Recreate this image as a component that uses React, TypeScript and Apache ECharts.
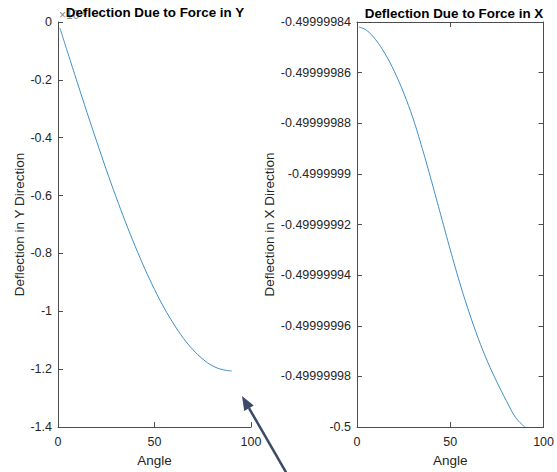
import React, { useEffect, useRef } from "react";
import * as echarts from "echarts";

// Angle samples (degrees)
const angles = [1, 5, 10, 15, 20, 25, 30, 35, 40, 45, 50, 55, 60, 65, 70, 75, 80, 85, 90];
// Deflection in Y, in units of 1e-8
const deflectionY = [
  -0.021, -0.105, -0.209, -0.312, -0.412, -0.51, -0.603, -0.692, -0.775, -0.853, -0.924,
  -0.988, -1.044, -1.093, -1.133, -1.165, -1.188, -1.201, -1.206,
];
// Deflection in X, as offset above -0.5 in units of 1e-8
const deflectionXOffset = [
  15.8, 15.68, 15.3, 14.75, 14.05, 13.2, 12.2, 11.0, 9.7, 8.35, 7.0, 5.72, 4.55, 3.5, 2.58,
  1.78, 1.05, 0.38, 0.0,
];
const xTickLabels = ["0", "50", "100"];
const yTickLabelsLeft = ["-1.4", "-1.2", "-1", "-0.8", "-0.6", "-0.4", "-0.2", "0"];
const yTickLabelsRight = [
  "-0.5", "-0.49999998", "-0.49999996", "-0.49999994", "-0.49999992",
  "-0.4999999", "-0.49999988", "-0.49999986", "-0.49999984",
];
const titleLeft = "Deflection Due to Force in Y";
const titleRight = "Deflection Due to Force in X";

const FONT = "'Liberation Sans', Arial, Helvetica, sans-serif";
const AXIS_COLOR = "#4d4d4d";
const TEXT_COLOR = "#262626";
const LINE_COLOR = "#3f8fc6";

export default function App() {
  const ref = useRef<HTMLDivElement>(null);
  useEffect(() => {
    document.body.style.margin = "0";
    if (!ref.current) return;
    const chart = echarts.init(ref.current, undefined, { renderer: "svg" });

    const gridL = { left: 58, top: 22, width: 193, height: 415 };
    const gridR = { left: 357, top: 22, width: 194, height: 415 };

    const baseX = (gridIndex: number, extra: any = {}) => ({
      type: "value",
      gridIndex,
      min: 0,
      max: 100,
      interval: 50,
      axisLine: { show: true, onZero: false, lineStyle: { color: AXIS_COLOR, width: 1 } },
      axisTick: { show: true, inside: true, length: 5, lineStyle: { color: AXIS_COLOR } },
      splitLine: { show: false },
      axisLabel: {
        show: true,
        margin: 8,
        color: TEXT_COLOR,
        fontFamily: FONT,
        fontSize: 12.5,
        formatter: (_v: number, i: number) => xTickLabels[i] ?? "",
      },
      ...extra,
    });

    const headLen = 14;
    const tip = [242, 396];
    const tail = [287, 474];
    const dx = tip[0] - tail[0];
    const dy = tip[1] - tail[1];
    const len = Math.sqrt(dx * dx + dy * dy);
    const ux = dx / len;
    const uy = dy / len;
    const bx = tip[0] - ux * headLen;
    const by = tip[1] - uy * headLen;
    const hw = 5.5;

    chart.setOption({
      animation: false,
      backgroundColor: "#ffffff",
      grid: [gridL, gridR],
      xAxis: [
        baseX(0, {
          name: "Angle",
          nameLocation: "middle",
          nameGap: 22,
          nameTextStyle: { color: TEXT_COLOR, fontFamily: FONT, fontSize: 13.5 },
        }),
        baseX(1, {
          name: "Angle",
          nameLocation: "middle",
          nameGap: 22,
          nameTextStyle: { color: TEXT_COLOR, fontFamily: FONT, fontSize: 13.5 },
        }),
        baseX(1, { position: "top", axisLabel: { show: false } }),
      ],
      yAxis: [
        {
          type: "value",
          gridIndex: 0,
          min: -1.4,
          max: 0,
          interval: 0.2,
          axisLine: { show: true, onZero: false, lineStyle: { color: AXIS_COLOR, width: 1 } },
          axisTick: { show: true, inside: true, length: 5, lineStyle: { color: AXIS_COLOR } },
          splitLine: { show: false },
          axisLabel: {
            margin: 6,
            color: TEXT_COLOR,
            fontFamily: FONT,
            fontSize: 12.5,
            formatter: (_v: number, i: number) => yTickLabelsLeft[i] ?? "",
          },
          name: "Deflection in Y Direction",
          nameLocation: "middle",
          nameGap: 31,
          nameTextStyle: { color: TEXT_COLOR, fontFamily: FONT, fontSize: 13.5 },
        },
        {
          type: "value",
          gridIndex: 1,
          min: 0,
          max: 16,
          interval: 2,
          axisLine: { show: true, onZero: false, lineStyle: { color: AXIS_COLOR, width: 1 } },
          axisTick: { show: true, inside: true, length: 5, lineStyle: { color: AXIS_COLOR } },
          splitLine: { show: false },
          axisLabel: {
            margin: 6,
            color: TEXT_COLOR,
            fontFamily: FONT,
            fontSize: 12.5,
            formatter: (_v: number, i: number) => yTickLabelsRight[i] ?? "",
          },
          name: "Deflection in X Direction",
          nameLocation: "middle",
          nameGap: 79,
          nameTextStyle: { color: TEXT_COLOR, fontFamily: FONT, fontSize: 13.5 },
        },
        {
          type: "value",
          gridIndex: 1,
          position: "right",
          min: 0,
          max: 16,
          interval: 2,
          axisLine: { show: true, onZero: false, lineStyle: { color: AXIS_COLOR, width: 1 } },
          axisTick: { show: true, inside: true, length: 5, lineStyle: { color: AXIS_COLOR } },
          splitLine: { show: false },
          axisLabel: { show: false },
        },
      ],
      series: [
        {
          type: "line",
          xAxisIndex: 0,
          yAxisIndex: 0,
          data: angles.map((a, i) => [a, deflectionY[i]]),
          showSymbol: false,
          smooth: 0.4,
          lineStyle: { color: LINE_COLOR, width: 1 },
        },
        {
          type: "line",
          xAxisIndex: 1,
          yAxisIndex: 1,
          data: angles.map((a, i) => [a, deflectionXOffset[i]]),
          showSymbol: false,
          smooth: 0.4,
          lineStyle: { color: LINE_COLOR, width: 1 },
        },
      ],
      graphic: [
        {
          type: "text",
          x: 59,
          y: 15,
          z: 1,
          style: {
            text: "{a|×10}{b|-8}",
            fill: "#888888",
            verticalAlign: "middle",
            rich: {
              a: { fontFamily: FONT, fontSize: 12, fill: "#888888" },
              b: { fontFamily: FONT, fontSize: 9, fill: "#888888", verticalAlign: "top", padding: [0, 0, 6, 0] },
            },
          },
        },
        {
          type: "text",
          x: 155,
          y: 12,
          z: 10,
          style: {
            text: titleLeft,
            fontFamily: FONT,
            fontWeight: "bold",
            fontSize: 13.4,
            fill: "#000000",
            align: "center",
            verticalAlign: "middle",
          },
        },
        {
          type: "text",
          x: 454,
          y: 13,
          z: 10,
          style: {
            text: titleRight,
            fontFamily: FONT,
            fontWeight: "bold",
            fontSize: 13.4,
            fill: "#000000",
            align: "center",
            verticalAlign: "middle",
          },
        },
        {
          type: "line",
          z: 20,
          shape: { x1: tail[0], y1: tail[1], x2: bx, y2: by },
          style: { stroke: "#3b4a66", lineWidth: 2.5 },
        },
        {
          type: "polygon",
          z: 20,
          shape: {
            points: [
              [tip[0], tip[1]],
              [bx - uy * hw, by + ux * hw],
              [bx + uy * hw, by - ux * hw],
            ],
          },
          style: { fill: "#3b4a66" },
        },
      ],
    });
    return () => chart.dispose();
  }, []);
  return <div ref={ref} style={{ width: 557, height: 472 }} />;
}
